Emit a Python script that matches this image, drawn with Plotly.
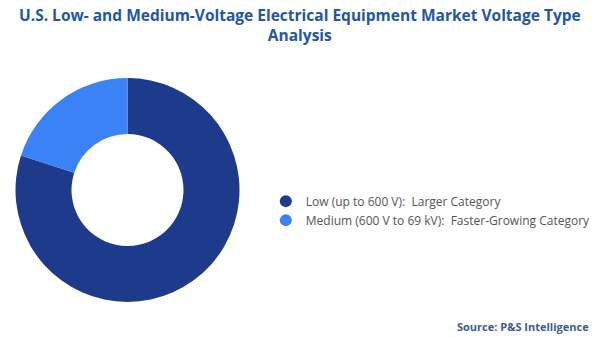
import plotly.graph_objects as go

labels = ["Low (up to 600 V):  Larger Category", "Medium (600 V to 69 kV):  Faster-Growing Category"]
values = [80, 20]
colors = ["#1e3a8a", "#3b82f6"]

fig = go.Figure()
fig.add_trace(go.Pie(
    labels=labels, values=values, hole=0.5, sort=False, direction="clockwise",
    rotation=0, marker=dict(colors=colors, line=dict(width=0)),
    textinfo="none", hoverinfo="label+percent", showlegend=False,
    domain=dict(x=[15/600, 240/600], y=[1-302/337, 1-78/337]),
))
for lab, col in zip(labels, colors):
    fig.add_trace(go.Scatter(x=[None], y=[None], mode="markers", name=lab,
                             marker=dict(symbol="circle", size=9, color=col)))

fig.update_layout(
    width=600, height=337,
    margin=dict(l=0, r=0, t=0, b=0),
    paper_bgcolor="white", plot_bgcolor="white",
    xaxis=dict(visible=False), yaxis=dict(visible=False),
    legend=dict(
        x=0.443, xanchor="left", y=0.375, yanchor="middle",
        font=dict(family="Open Sans", size=12, color="#555555"),
        itemsizing="constant", tracegroupgap=6,
    ),
    annotations=[
        dict(
            text="<b>U.S. Low- and Medium-Voltage Electrical Equipment Market Voltage Type<br>Analysis</b>",
            x=0.5, xanchor="center", y=0.995, yanchor="top", xref="paper", yref="paper",
            showarrow=False, align="center",
            font=dict(family="Open Sans", size=15.5, color="#2456a6"),
        ),
        dict(
            text="<b>Source: P&S Intelligence</b>", x=0.985, xanchor="right",
            y=0.03, yanchor="middle", xref="paper", yref="paper", showarrow=False,
            font=dict(family="Open Sans", size=11, color="#3d5a99"),
        ),
    ],
)
fig.write_html("out.html")
